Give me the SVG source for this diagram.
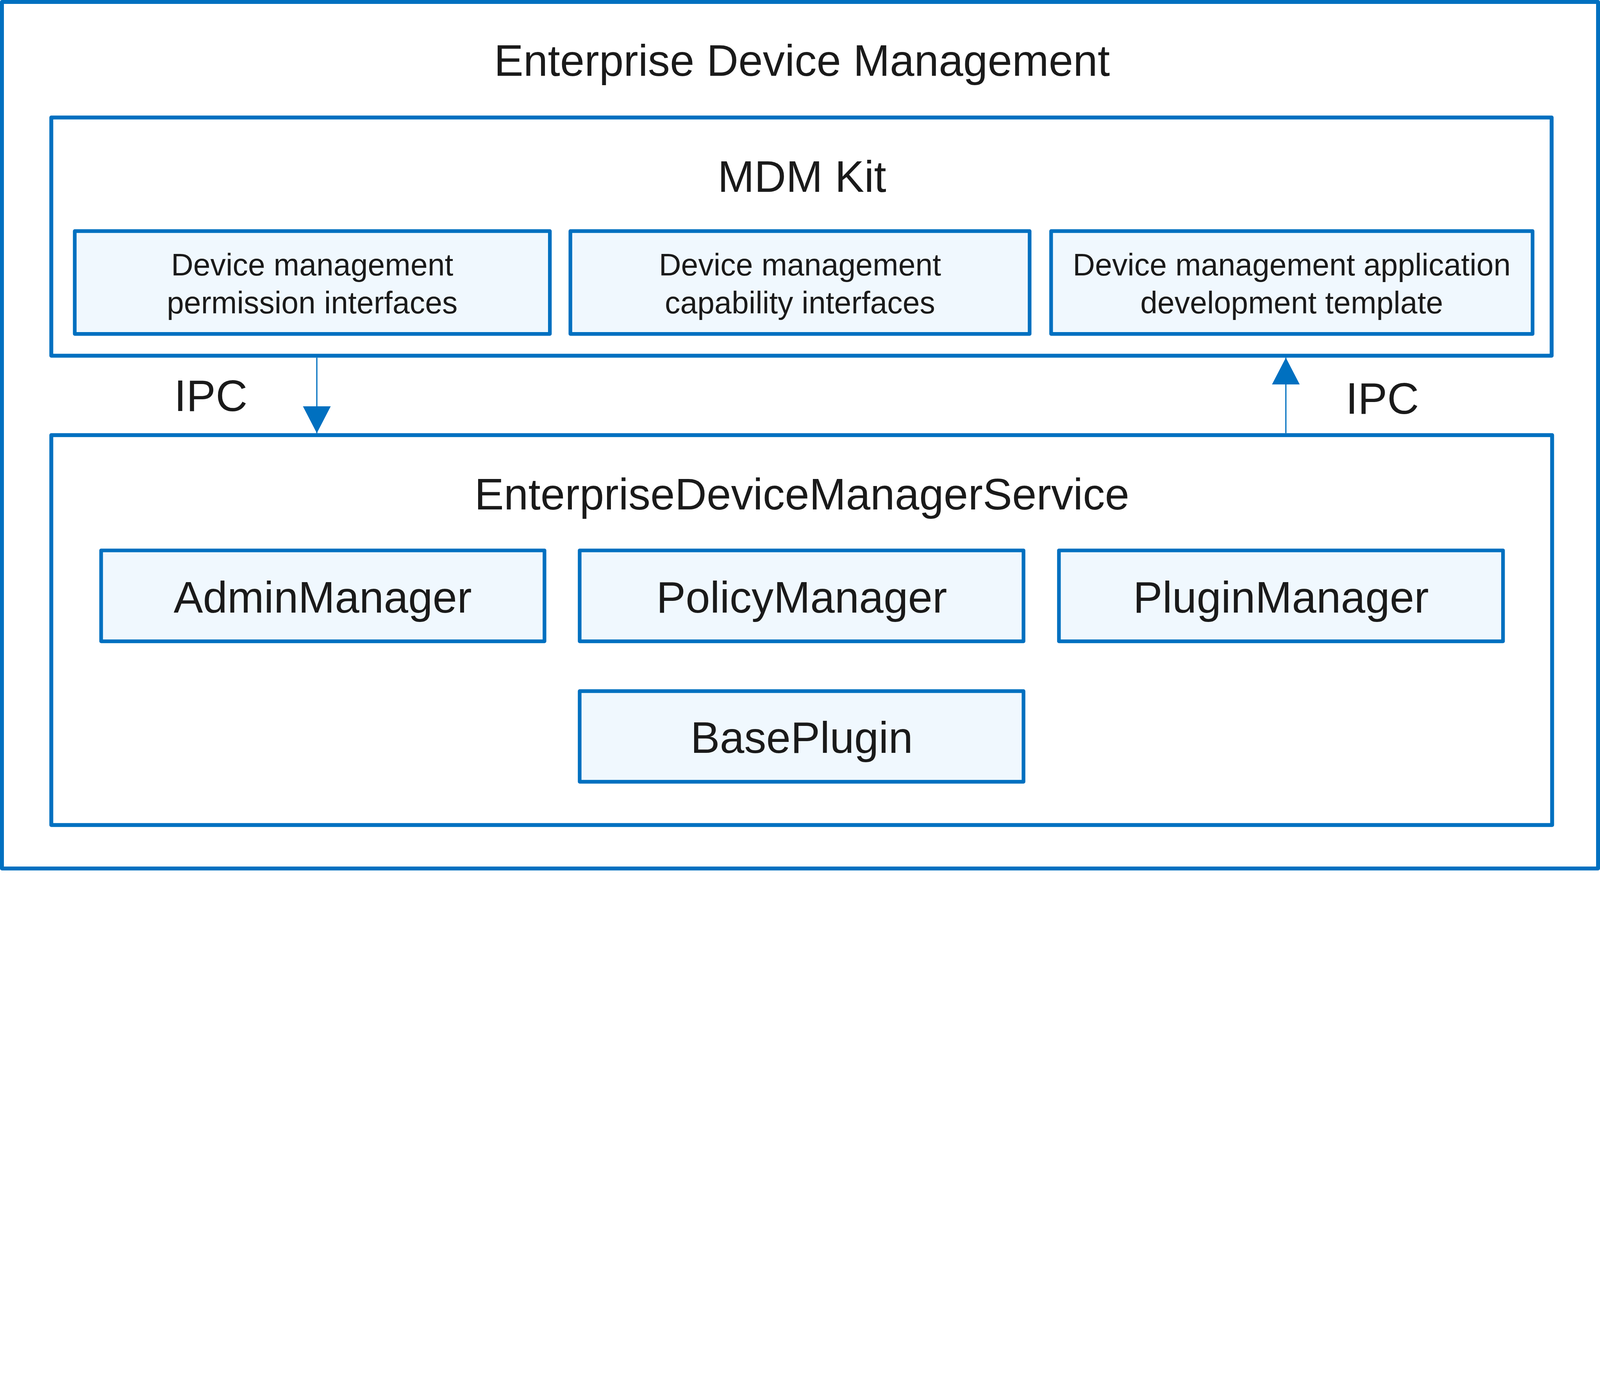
<svg xmlns="http://www.w3.org/2000/svg" width="6550" height="3563" viewBox="0 0 6550 3563">
  <style>
    @media (max-width: 6549px) {
      svg:root { width: 100vw; height: calc(100vw * 3563 / 6550); }
    }
    .frame { fill: #FFFFFF; stroke: #0070C0; stroke-width: 16; stroke-linejoin: round; }
    .sub { fill: #F0F8FE; stroke: #0070C0; stroke-width: 15; stroke-linejoin: round; }
    .t { font-family: "Liberation Sans", Arial, sans-serif; fill: #1A1A1A; text-anchor: middle; }
    .big { font-size: 180px; }
    .small { font-size: 126px; }
    .conn { stroke: #0070C0; stroke-width: 5; fill: none; }
  </style>
  <defs>
    <marker id="arrow" markerUnits="userSpaceOnUse" markerWidth="112" markerHeight="114" refX="110" refY="57" orient="auto" viewBox="0 0 112 114">
      <path d="M0,0 L110,57 L0,114 Z" fill="#0070C0"/>
    </marker>
  </defs>
  <rect width="6550" height="3563" fill="#FFFFFF"/>

  <g id="enterprise-device-management">
    <rect class="frame" x="8" y="8" width="6534" height="3547"/>
    <text class="t big" x="3283" y="310">Enterprise Device Management</text>
  </g>

  <g id="mdm-kit">
    <rect class="frame" x="210" y="481" width="6142" height="975"/>
    <text class="t big" x="3283" y="786">MDM Kit</text>
  </g>

  <g id="permission-interfaces">
    <rect class="sub" x="306" y="946" width="1945" height="421"/>
    <text class="t small" x="1278" y="1127">Device management</text>
    <text class="t small" x="1278" y="1283">permission interfaces</text>
  </g>

  <g id="capability-interfaces">
    <rect class="sub" x="2335" y="946" width="1880" height="421"/>
    <text class="t small" x="3275" y="1127">Device management</text>
    <text class="t small" x="3275" y="1283">capability interfaces</text>
  </g>

  <g id="development-template">
    <rect class="sub" x="4303" y="946" width="1971" height="421"/>
    <text class="t small" x="5288" y="1127">Device management application</text>
    <text class="t small" x="5288" y="1283">development template</text>
  </g>

  <g id="service">
    <rect class="frame" x="210" y="1781" width="6144" height="1596"/>
    <text class="t big" x="3283" y="2086">EnterpriseDeviceManagerService</text>
  </g>

  <g id="admin-manager">
    <rect class="sub" x="414" y="2253" width="1815" height="372"/>
    <text class="t big" x="1321" y="2507">AdminManager</text>
  </g>

  <g id="policy-manager">
    <rect class="sub" x="2373" y="2253" width="1817" height="372"/>
    <text class="t big" x="3282" y="2507">PolicyManager</text>
  </g>

  <g id="plugin-manager">
    <rect class="sub" x="4335" y="2253" width="1818" height="372"/>
    <text class="t big" x="5244" y="2507">PluginManager</text>
  </g>

  <g id="base-plugin">
    <rect class="sub" x="2373" y="2829" width="1817" height="371"/>
    <text class="t big" x="3282" y="3082">BasePlugin</text>
  </g>

  <g id="connectors">
    <line class="conn" x1="1297" y1="1464" x2="1297" y2="1773" marker-end="url(#arrow)"/>
    <line class="conn" x1="5264" y1="1773" x2="5264" y2="1464" marker-end="url(#arrow)"/>
    <text class="t big" x="863" y="1682">IPC</text>
    <text class="t big" x="5659" y="1693">IPC</text>
  </g>
</svg>
